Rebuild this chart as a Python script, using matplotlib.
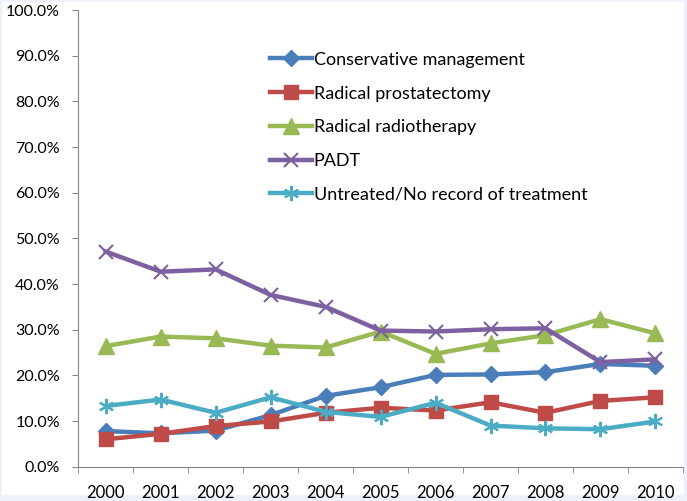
import numpy as np
import matplotlib.pyplot as plt
from matplotlib.patches import Rectangle

years = ['2000', '2001', '2002', '2003', '2004', '2005', '2006', '2007', '2008', '2009', '2010']
conservative = [7.8, 7.3, 7.9, 11.3, 15.5, 17.4, 20.1, 20.2, 20.7, 22.5, 22.1]
prostatectomy = [6.0, 7.2, 8.9, 9.9, 11.8, 12.9, 12.3, 14.1, 11.8, 14.4, 15.2]
radiotherapy = [26.4, 28.5, 28.1, 26.5, 26.1, 29.6, 24.7, 27.0, 28.8, 32.3, 29.2]
padt = [47.1, 42.7, 43.2, 37.6, 35.0, 29.8, 29.6, 30.1, 30.3, 22.9, 23.5]
untreated = [13.3, 14.7, 11.8, 15.2, 12.0, 10.9, 14.0, 9.0, 8.4, 8.2, 9.9]

plt.rcParams['font.family'] = ['Lato', 'DejaVu Sans']

fig = plt.figure(figsize=(6.87, 5.01), dpi=100, facecolor='#edf2fa')
fig.patches.append(Rectangle((0.003, 0.012), 0.993, 0.984, transform=fig.transFigure,
                             facecolor='white', edgecolor='none', zorder=-5))
ax = fig.add_axes([0.114, 0.0685, 0.880, 0.9115])
ax.set_facecolor('none')
ax.set_zorder(2)

x = np.arange(len(years))
ax.plot(x, conservative, color='#4a7ebb', lw=3.2, marker='D', ms=8, label='Conservative management')
ax.plot(x, prostatectomy, color='#be4b48', lw=3.2, marker='s', ms=10, label='Radical prostatectomy')
ax.plot(x, radiotherapy, color='#98b954', lw=3.2, marker='^', ms=11, label='Radical radiotherapy')
ax.plot(x, padt, color='#7d60a0', lw=3.2, marker='x', ms=10, mew=1.5, label='PADT')
ax.plot(x, untreated, color='#4bacc6', lw=3.2, marker=(6, 2, 0), ms=11, mew=1.5,
        label='Untreated/No record of treatment')

ax.set_ylim(0, 100)
ax.set_xlim(-0.5, len(years) - 0.5)
ax.set_yticks(np.arange(0, 101, 10))
ax.set_yticklabels(['%.1f%%' % v for v in np.arange(0, 101, 10)], fontsize=11.5)
ax.set_xticks(x)
ax.set_xticklabels(years, fontsize=12)
ax.set_xticks(np.arange(-0.5, len(years), 1), minor=True)
ax.tick_params(axis='x', which='major', length=0, pad=13)
ax.tick_params(axis='x', which='minor', length=4, color='#868686')
ax.tick_params(axis='y', length=4.3, color='#868686', pad=9)

for s in ['top', 'right']:
    ax.spines[s].set_visible(False)
for s in ['left', 'bottom']:
    ax.spines[s].set_color('#868686')

ax.legend(loc='upper left', bbox_to_anchor=(0.383, 0.911), bbox_transform=fig.transFigure,
          frameon=False, fontsize=13, handlelength=2.3, handletextpad=0.1,
          labelspacing=0.98, borderaxespad=0)

fig.savefig('out.png', dpi=100, facecolor=fig.get_facecolor())
